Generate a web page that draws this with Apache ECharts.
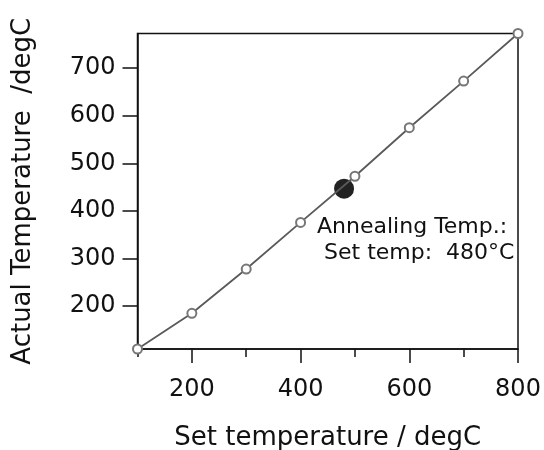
<!DOCTYPE html>
<html>
<head>
<meta charset="utf-8">
<script src="https://cdn.jsdelivr.net/npm/echarts@6/dist/echarts.min.js"></script>
<style>
  html, body { margin: 0; padding: 0; background: #fff; }
  #chart { width: 544px; height: 450px; }
</style>
</head>
<body>
<div id="chart"></div>
<script>
// measured set vs actual temperature (degC)
const setTemp = [100, 200, 300, 400, 500, 600, 700, 800]
const actualTemp = [110, 185, 278, 376, 473, 575, 673, 773]
// annealing point
const annealSet = [480]
const annealActual = [447]

const xMajorTicks = [200, 400, 600, 800]
const xMinorTicks = [100, 300, 500, 700]
const yTicks = [200, 300, 400, 500, 600, 700]

const FONT = 'DejaVu Sans'

const chart = echarts.init(document.getElementById('chart'))

const option = {
  backgroundColor: '#fff',
  animation: false,
  grid: {
    left: 137.5, right: 26, top: 33.5, bottom: 101,
    outerBoundsMode: 'none',
    show: true, borderColor: '#111', borderWidth: 1.5
  },
  xAxis: [
    {
      type: 'value', min: 100, max: 800,
      name: 'Set temperature / degC',
      nameLocation: 'middle', nameGap: 76,
      nameTextStyle: { fontFamily: FONT, fontSize: 26, color: '#111' },
      axisLine: { show: true, lineStyle: { color: '#111', width: 1.5 } },
      axisTick: { show: true, length: 14, customValues: xMajorTicks, lineStyle: { color: '#111', width: 1.5 } },
      axisLabel: { customValues: xMajorTicks, margin: 29, fontFamily: FONT, fontSize: 24, color: '#111' },
      splitLine: { show: false }
    },
    {
      type: 'value', min: 100, max: 800, position: 'bottom',
      axisLine: { show: false },
      axisTick: { show: true, length: 8, customValues: xMinorTicks, lineStyle: { color: '#111', width: 1.5 } },
      axisLabel: { show: false },
      splitLine: { show: false }
    }
  ],
  yAxis: {
    type: 'value', min: 110, max: 773,
    name: 'Actual Temperature  /degC',
    nameLocation: 'middle', nameGap: 101,
    nameTextStyle: { fontFamily: FONT, fontSize: 26, color: '#111' },
    axisLine: { show: true, lineStyle: { color: '#111', width: 1.5 } },
    axisTick: { show: true, length: 15, customValues: yTicks, lineStyle: { color: '#111', width: 1.5 } },
    axisLabel: { customValues: yTicks, margin: 22, fontFamily: FONT, fontSize: 24, color: '#111' },
    splitLine: { show: false }
  },
  series: [
    {
      type: 'line',
      data: setTemp.map((x, i) => [x, actualTemp[i]]),
      symbol: 'emptyCircle',
      symbolSize: 9,
      lineStyle: { color: '#5a5a5a', width: 1.8 },
      itemStyle: { color: '#777', borderColor: '#777', borderWidth: 1.3 }
    },
    {
      type: 'scatter',
      data: annealSet.map((x, i) => [x, annealActual[i]]),
      symbol: 'circle',
      symbolSize: 20,
      itemStyle: { color: '#222', opacity: 1 },
      label: {
        show: true,
        position: [-17, 36],
        align: 'left',
        verticalAlign: 'top',
        fontFamily: FONT,
        fontSize: 22,
        lineHeight: 26,
        color: '#111',
        formatter: () => 'Annealing Temp.:\n Set temp:  ' + annealSet[0] + '\u00B0C'
      }
    }
  ]
}

chart.setOption(option)
</script>
</body>
</html>
